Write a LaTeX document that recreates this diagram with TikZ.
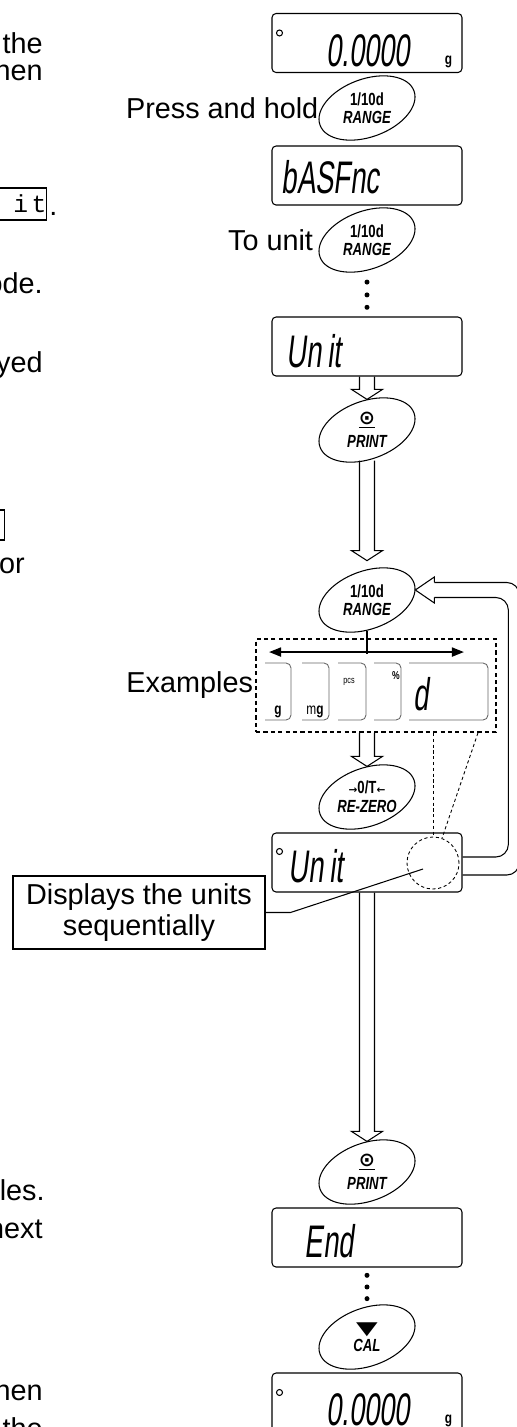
\documentclass[tikz,border=0pt]{standalone}
\usepackage{fontspec}
\setmainfont{Liberation Sans}
\newfontfamily\segfont[FakeStretch=0.6,FakeSlant=0.12]{Liberation Sans}
\newfontfamily\keyfont[FakeStretch=0.75]{Liberation Sans}
\newfontfamily\monofont{Liberation Mono}
\newfontfamily\symfont{DejaVu Sans}
\usetikzlibrary{calc,shapes.geometric,arrows.meta}

\newcommand{\hollowdown}[2]{%
  \draw[hollow] ($(#1)+(-7.5,0)$) -- ($(#2)+(-7.5,-10)$) -- ($(#2)+(-15.5,-10)$) -- (#2)
    -- ($(#2)+(15.5,-10)$) -- ($(#2)+(7.5,-10)$) -- ($(#1)+(7.5,0)$);}

\tikzset{
  lcd/.style={draw, line width=0.6pt, rounded corners=0.08cm, minimum width=3.8cm, minimum height=1.18cm, inner sep=0},
  seg/.style={inner sep=0, font=\segfont\fontsize{26}{26}\selectfont},
  key/.style={ellipse, minimum width=1.92cm, minimum height=1.21cm, inner sep=0, align=center, font=\keyfont\bfseries\fontsize{10}{10}\selectfont},
  txt/.style={inner sep=0, font=\fontsize{16.4}{17.6}\selectfont},
  keyref/.style={draw, line width=0.8pt, minimum height=0.64cm, inner sep=0},
  hollow/.style={line width=0.6pt, line join=miter},
  unitbox/.style={draw=black!60, line width=0.5pt, rounded corners=0.1cm},
  unitlbl/.style={inner sep=0, font=\keyfont\bfseries\fontsize{9}{9}\selectfont},
  exbox/.style={draw, line width=1.1pt, dash pattern=on 2.4pt off 1.8pt, minimum width=4.8cm, minimum height=1.86cm, inner sep=0},
  dotline/.style={line width=0.5pt, dash pattern=on 1.8pt off 1.5pt},
  notebox/.style={draw, line width=0.6pt, minimum width=5.04cm, minimum height=1.46cm, align=center, inner sep=0, font=\fontsize{16.4}{17.6}\selectfont},
  stable/.style={circle, draw, line width=0.6pt, minimum size=0.12cm, inner sep=0}
}

\begin{document}
\begin{tikzpicture}[x=0.02cm, y=-0.02cm]
  \useasboundingbox (0,0) rectangle (517,1427);
  \node[txt, anchor=base east] (p1) at (43,53) {the};
  \node[txt, anchor=base east] (p2) at (43,80) {hen};
  \node[keyref, anchor=east, text width=1.3cm, align=right, font=\monofont\fontsize{14}{14}\selectfont] (p3) at (47,204) {i\hspace{2pt}t\hspace{8pt}};
  \node[txt, anchor=base west] (p4) at ($(p3.east)+(2,11)$) {.};
  \node[txt, anchor=base east] (p5) at (43,293) {ode.};
  \node[txt, anchor=base east] (p6) at (43,372) {yed};
  \node[keyref, anchor=east, minimum width=1cm, minimum height=0.6cm] (p7) at (5,525) {};
  \node[txt, anchor=base east] (p8) at (25,573) {or};
  \node[txt, anchor=base east] (p9) at (45,1200) {les.};
  \node[txt, anchor=base east] (p10) at (43,1238) {next};
  \node[txt, anchor=base east] (p11) at (43,1400) {hen};
  \node[txt, anchor=base east] (p12) at (43,1438) {the};

  \node[lcd] (d1) at (367,43) {};
  \node[lcd] (d2) at (367,175.5) {};
  \node[lcd] (d3) at (367,346.5) {};
  \node[lcd] (d4) at (367,862.5) {};
  \node[lcd] (d5) at (367,1237.5) {};
  \node[lcd] (d6) at (367,1402.5) {};

  \node[stable] (s1) at ($(d1.north west)+(8,20)$) {};
  \node[seg, anchor=base east] (v1) at ($(d1.south east)+(-52,-7)$) {0.0000};
  \node[unitlbl, anchor=base] (g1) at ($(d1.south east)+(-14,-9)$) {g};
  \node[seg, anchor=base west] (v2) at ($(d2.south west)+(10,-12)$) {bASFnc};
  \node[seg, anchor=base west] (v3) at ($(d3.south west)+(15,-9)$) {Un\hspace{3pt}it};
  \node[stable] (s4) at ($(d4.north west)+(8,19)$) {};
  \node[seg, anchor=base west] (v4) at ($(d4.south west)+(17,-10)$) {Un\hspace{3pt}it};
  \node[seg, anchor=base west] (v5) at ($(d5.south west)+(33,-10)$) {End};
  \node[stable] (s6) at ($(d6.north west)+(8,20)$) {};
  \node[seg, anchor=base east] (v6) at ($(d6.south east)+(-52,-7)$) {0.0000};
  \node[unitlbl, anchor=base] (g6) at ($(d6.south east)+(-14,-9)$) {g};

  \node[key] (k1) at (367,108) {1/10d\\\itshape RANGE};
  \node[key] (k2) at (367,240) {1/10d\\\itshape RANGE};
  \node[key] (k3) at (367,430) {{\symfont\fontsize{11}{11}\selectfont\underline{⊙}}\\[3pt]\itshape PRINT};
  \node[key] (k4) at (367,600) {1/10d\\\itshape RANGE};
  \node[key] (k5) at (367,797) {{\symfont\fontsize{6}{6}\selectfont →}0/T{\symfont\fontsize{6}{6}\selectfont ←}\\[1pt]\itshape RE-ZERO};
  \node[key] (k6) at (367,1172) {{\symfont\fontsize{11}{11}\selectfont\underline{⊙}}\\[3pt]\itshape PRINT};
  \node[key] (k7) at (367,1337) {{\symfont\fontsize{16}{16}\selectfont\scalebox{1}[0.65]{▼}}\\\itshape CAL};
  \foreach \k in {k1,k2,k3,k4,k5,k6,k7}
    \draw[line width=0.6pt, rotate around={20:(\k.center)}] (\k.center) ellipse [x radius=1cm, y radius=0.58cm];

  \node[txt, anchor=east] (hold) at (k1.west) {Press and hold};
  \node[txt, anchor=east] (tounit) at ([xshift=-3pt]k2.west) {To unit};

  \node[exbox] (ex) at (376,685.5) {};
  \node[txt, anchor=east] (exlbl) at ([xshift=-1pt]ex.west) {Examples};
  \foreach \a/\b in {265/291, 302/329, 338/366, 374/401, 409/488}
    \draw[unitbox] (\a,663) -- (\b,663) -- (\b,720) -- (\a,720);
  \node[unitlbl, anchor=base] (ug) at (278,714) {g};
  \node[unitlbl, anchor=base] (umg) at (315,714) {{\mdseries m}g};
  \node[unitlbl, anchor=north, font=\keyfont\fontsize{5.5}{5.5}\selectfont] (upcs) at (349,678) {pcs};
  \node[unitlbl, anchor=north, font=\keyfont\bfseries\fontsize{6.5}{6.5}\selectfont] (upct) at (396,671) {\%};
  \node[seg, anchor=base west] (ud) at (413,710) {d};

  \node[circle, draw, dotline, minimum size=1.04cm, inner sep=0] (spot) at (433,863) {};
  \node[notebox] (note) at (139,912.5) {Displays the units\\sequentially};

  \coordinate (fork) at ($(k4.south)+(0,23)$);
  \coordinate (ret) at ([yshift=5.7pt]k4.east);
  \coordinate (k4top) at ([yshift=5pt]k4.north);
  \coordinate (exout) at (k5.north |- ex.south);

  \begin{scope}[line width=0.6pt]
    \foreach \f in {0.25,0.53,0.8}
      \fill ($(k2.south)!\f!(d3.north)$) circle (0.05cm);
    \foreach \f in {0.2,0.5,0.8}
      \fill ($(d5.south)!\f!(k7.north)$) circle (0.05cm);
    \hollowdown{d3.south}{k3.north}
    \hollowdown{k3.south}{k4top}
    \hollowdown{exout}{k5.north}
    \hollowdown{d4.south}{k6.north}
    \draw[line width=1.1pt] (k4.south) -- (fork);
    \draw[line width=1.1pt, {Triangle[length=0.24cm,width=0.18cm]}-{Triangle[length=0.24cm,width=0.18cm]}]
      ($(ex.north west)+(14,14)$) -- ($(ex.north east)+(-33,14)$);
    \draw[hollow, rounded corners=0.25cm] ($(d4.east)+(0,-5.5)$) -| ($(ret)+(93,7.5)$) -- ($(ret)+(19,7.5)$);
    \draw[hollow, rounded corners=0.25cm] ($(d4.east)+(0,12.5)$) -| ($(ret)+(104,-7.5)$) -- ($(ret)+(19,-7.5)$);
    \draw[hollow] ($(ret)+(19,-7.5)$) -- ($(ret)+(19,-13)$) -- (ret) -- ($(ret)+(19,13)$) -- ($(ret)+(19,7.5)$);
    \draw[dotline] (spot.north |- ex.south) -- (spot.north);
    \draw[dotline] ($(ex.south east)+(-19,0)$) -- (spot.70);
    \draw (note.east) -- ++(25,0) -- ($(spot.center)+(-10,6)$);
  \end{scope}
\end{tikzpicture}
\end{document}
